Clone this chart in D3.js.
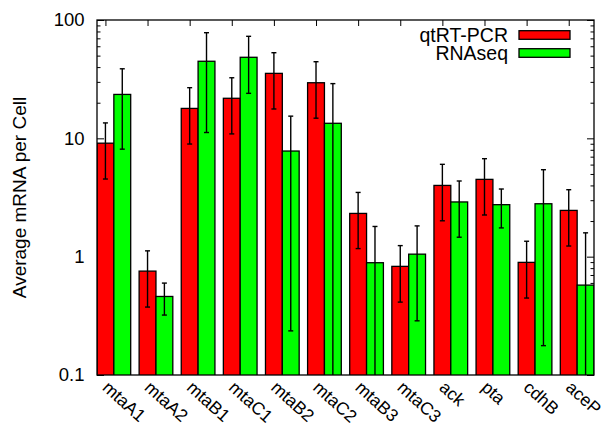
<!DOCTYPE html>
<html>
<head>
<meta charset="utf-8">
<script src="https://cdn.jsdelivr.net/npm/d3@7"></script>
<style>
  html, body { margin: 0; padding: 0; background: #fff; }
  svg { display: block; }
  text { font-family: "Liberation Sans", Arial, Helvetica, sans-serif; fill: #000; }
</style>
</head>
<body>
<svg id="chart" width="604" height="430"></svg>
<script>
// Genes along the x axis
const genes = ["mtaA1", "mtaA2", "mtaB1", "mtaC1", "mtaB2", "mtaC2",
               "mtaB3", "mtaC3", "ack", "pta", "cdhB", "aceP"];

// qtRT-PCR: mean and error range (low / high)
const qpcr   = [9.1, 0.755, 17.9, 21.8, 35.4, 29.5, 2.32, 0.828, 4.0, 4.5, 0.895, 2.46];
const qpcrLo = [4.53, 0.375, 8.95, 10.9, 17.7, 14.8, 1.17, 0.413, 2.01, 2.25, 0.447, 1.23];
const qpcrHi = [13.5, 1.12, 26.8, 32.5, 52.9, 44.4, 3.49, 1.24, 6.03, 6.73, 1.35, 3.68];

// RNAseq: mean and error range (low / high)
const rnaseq = [23.5, 0.461, 44.8, 48.4, 7.81, 13.4, 0.889, 1.05, 2.9, 2.75, 2.8, 0.575];
const rnaLo  = [8.1, 0.321, 11.2, 24.0, 0.236, 0.05, 0.05, 0.287, 1.46, 1.75, 0.177, 0.05];
const rnaHi  = [38.7, 0.598, 78.1, 72.8, 15.4, 29.0, 1.80, 1.82, 4.36, 3.73, 5.43, 1.59];

// Y tick labels (decades)
const yTicks = [0.1, 1, 10, 100];
const yTickLabels = ["0.1", "1", "10", "100"];

const seriesNames = ["qtRT-PCR", "RNAseq"];
const seriesColors = ["#ff0000", "#00ff00"];

const svg = d3.select("#chart");
const L = 97, R = 594, T = 20, B = 375;
const barW = 0.4;

const x = d3.scaleLinear().domain([-0.2, 11.6]).range([L, R]);
const y = d3.scaleLog().domain([0.1, 100]).range([B, T]);

svg.append("defs").append("clipPath").attr("id", "plotclip")
  .append("rect").attr("x", L).attr("y", T).attr("width", R - L).attr("height", B - T);

// Minor + major y ticks, drawn inward on both sides
const minor = [];
for (let d = 0.1; d < 100; d *= 10) for (let k = 2; k <= 9; k++) minor.push(d * k);

const yLeft = d3.axisLeft(y).tickValues(yTicks).tickSize(-7).tickFormat("");
const yRight = d3.axisRight(y).tickValues(yTicks).tickSize(-7).tickFormat("");
const yLeftMinor = d3.axisLeft(y).tickValues(minor).tickSize(-3.5).tickFormat("");
const yRightMinor = d3.axisRight(y).tickValues(minor).tickSize(-3.5).tickFormat("");
const xTop = d3.axisTop(x).tickValues(d3.range(genes.length)).tickSize(-6).tickFormat("");
const xBot = d3.axisBottom(x).tickValues(d3.range(genes.length)).tickSize(-6).tickFormat("");

function drawAxis(axis, tx, ty) {
  const g = svg.append("g").attr("transform", `translate(${tx},${ty})`).call(axis);
  g.select(".domain").remove();
  g.selectAll("line").attr("stroke", "#000").attr("stroke-width", 1);
  return g;
}
drawAxis(yLeft, L, 0);
drawAxis(yRight, R, 0);
drawAxis(yLeftMinor, L, 0);
drawAxis(yRightMinor, R, 0);
drawAxis(xTop, 0, T);
drawAxis(xBot, 0, B);

// Bars
const plot = svg.append("g").attr("clip-path", "url(#plotclip)");
const series = [
  { vals: qpcr, lo: qpcrLo, hi: qpcrHi, off: 0 },
  { vals: rnaseq, lo: rnaLo, hi: rnaHi, off: barW }
];
series.forEach((s, si) => {
  plot.append("g").selectAll("rect").data(genes).join("rect")
    .attr("x", (d, i) => x(i - barW / 2 + s.off))
    .attr("width", x(barW) - x(0))
    .attr("y", (d, i) => y(s.vals[i]))
    .attr("height", (d, i) => y(0.1) - y(s.vals[i]) + 2)
    .attr("fill", seriesColors[si])
    .attr("stroke", "#000")
    .attr("stroke-width", 1.3);
});

// Error bars
series.forEach((s) => {
  const g = plot.append("g").attr("stroke", "#000").attr("stroke-width", 1.4);
  genes.forEach((d, i) => {
    const cx = x(i + s.off);
    const y0 = y(s.lo[i]), y1 = y(s.hi[i]);
    g.append("line").attr("x1", cx).attr("x2", cx).attr("y1", y0).attr("y2", y1);
    g.append("line").attr("x1", cx - 2.5).attr("x2", cx + 2.5).attr("y1", y1).attr("y2", y1);
    g.append("line").attr("x1", cx - 2.5).attr("x2", cx + 2.5).attr("y1", y0).attr("y2", y0);
  });
});

// Plot frame
svg.append("rect").attr("x", L).attr("y", T).attr("width", R - L).attr("height", B - T)
  .attr("fill", "none").attr("stroke", "#000").attr("stroke-width", 1.3);

// Y tick labels
svg.append("g").selectAll("text").data(yTicks).join("text")
  .attr("x", L - 12.5)
  .attr("y", d => y(d))
  .attr("dy", "0.35em")
  .attr("text-anchor", "end")
  .attr("font-size", 18.5)
  .text((d, i) => yTickLabels[i]);

// X tick labels, rotated
svg.append("g").selectAll("text").data(genes).join("text")
  .attr("transform", (d, i) => `translate(${x(i) - 4},${B + 14}) rotate(42)`)
  .attr("text-anchor", "start")
  .attr("font-size", 17.5)
  .text(d => d);

// Y axis title
svg.append("text")
  .attr("transform", `translate(26,${(T + B) / 2}) rotate(-90)`)
  .attr("text-anchor", "middle")
  .attr("font-size", 19)
  .text("Average mRNA per Cell");

// Legend
const leg = svg.append("g");
seriesNames.forEach((name, i) => {
  const cy = 35 + i * 18;
  leg.append("text").attr("x", 508).attr("y", cy).attr("dy", "0.35em")
    .attr("text-anchor", "end").attr("font-size", 19.5).text(name);
  leg.append("rect").attr("x", 519).attr("y", cy - 4.3).attr("width", 51).attr("height", 8.6)
    .attr("fill", seriesColors[i]).attr("stroke", "#000").attr("stroke-width", 1.3);
});
</script>
</body>
</html>
